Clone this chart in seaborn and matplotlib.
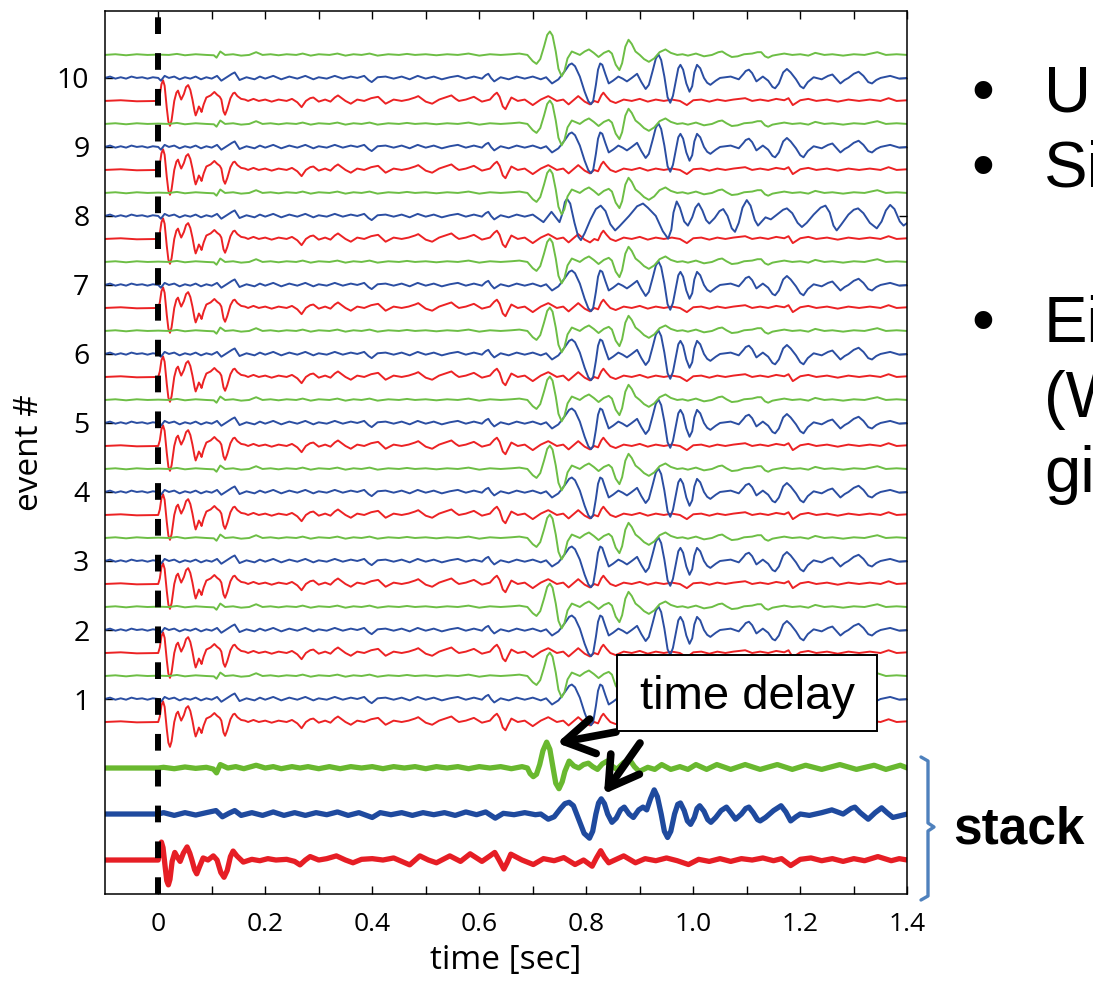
import matplotlib
matplotlib.use("Agg")
import matplotlib.pyplot as plt
from matplotlib.patches import Rectangle
from matplotlib.lines import Line2D
import seaborn as sns
import pandas as pd

# ---------------- data (time [s], amplitude) ----------------
EVENTS = [1, 2, 3, 4, 5, 6, 7, 8, 9, 10]
STATIONS = ["red", "blue", "green"]

RED_TRACE = [(-0.1, 0.0), (-0.07, 0.01), (-0.04, -0.005), (0.0, 0.0), (0.003, 0.08), (0.006, 0.24),
             (0.009, 0.30), (0.012, 0.22), (0.016, -0.10), (0.019, -0.30), (0.022, -0.36), (0.025, -0.28),
             (0.030, 0.0), (0.034, 0.12), (0.037, 0.15), (0.040, 0.08), (0.043, 0.02), (0.048, 0.10),
             (0.052, 0.20), (0.056, 0.23), (0.060, 0.16), (0.064, 0.02), (0.068, -0.15), (0.070, -0.21),
             (0.073, -0.15), (0.076, -0.08), (0.079, -0.12), (0.081, -0.16), (0.085, -0.05), (0.090, 0.05),
             (0.098, 0.08), (0.105, 0.13), (0.110, 0.09), (0.115, 0.06), (0.118, 0.02), (0.122, -0.15),
             (0.125, -0.20), (0.129, -0.12), (0.135, 0.04), (0.140, 0.11), (0.143, 0.12), (0.148, 0.07),
             (0.155, 0.03), (0.162, 0.02), (0.168, 0.0), (0.178, 0.03), (0.188, 0.0), (0.200, 0.02),
             (0.212, -0.01), (0.225, 0.02), (0.240, 0.0), (0.250, 0.03), (0.260, -0.02), (0.268, -0.09),
             (0.276, 0.0), (0.284, 0.04), (0.290, 0.05), (0.300, -0.01), (0.312, 0.02), (0.322, -0.01),
             (0.330, 0.05), (0.336, 0.08), (0.343, 0.04), (0.350, 0.0), (0.360, -0.04), (0.372, 0.02),
             (0.385, 0.0), (0.398, 0.04), (0.411, 0.06), (0.425, -0.04), (0.440, 0.02), (0.455, 0.0),
             (0.468, 0.02), (0.480, 0.05), (0.486, 0.07), (0.493, 0.03), (0.500, -0.01), (0.512, -0.04),
             (0.525, 0.02), (0.540, 0.06), (0.548, 0.08), (0.556, 0.03), (0.562, 0.0), (0.575, 0.02),
             (0.590, 0.06), (0.605, -0.01), (0.620, 0.02), (0.628, 0.09), (0.633, 0.12), (0.638, 0.06),
             (0.644, -0.08), (0.649, -0.12), (0.654, -0.04), (0.660, 0.05), (0.672, 0.0), (0.685, 0.02),
             (0.700, -0.06), (0.715, 0.02), (0.729, 0.07), (0.745, 0.0), (0.757, 0.02), (0.767, -0.05),
             (0.785, 0.07), (0.797, -0.01), (0.807, -0.05), (0.815, 0.0), (0.822, -0.02), (0.828, 0.08),
             (0.832, 0.12), (0.838, 0.06), (0.845, 0.0), (0.855, -0.03), (0.870, 0.02), (0.885, 0.0),
             (0.900, 0.03), (0.915, -0.01), (0.930, 0.02), (0.945, 0.0), (0.960, 0.02), (0.975, 0.0),
             (0.988, -0.06), (1.000, 0.01), (1.015, 0.02), (1.030, -0.01), (1.045, 0.02), (1.060, 0.0),
             (1.075, 0.02), (1.097, 0.04), (1.110, 0.0), (1.125, 0.02), (1.140, 0.0), (1.155, 0.03),
             (1.170, 0.01), (1.178, 0.04), (1.186, -0.06), (1.200, 0.01), (1.215, 0.03), (1.230, 0.0),
             (1.250, 0.02), (1.270, -0.01), (1.290, 0.02), (1.310, 0.0), (1.330, 0.02), (1.350, 0.0),
             (1.365, 0.04), (1.380, 0.0), (1.400, 0.01)]

GREEN_TRACE = [(-0.1, 0.0), (-0.08, 0.01), (-0.06, -0.005), (-0.04, 0.01), (-0.02, 0.0), (0.0, 0.005),
               (0.02, 0.0), (0.035, 0.015), (0.05, -0.005), (0.07, 0.01), (0.09, 0.0), (0.104, -0.005),
               (0.109, -0.04), (0.116, 0.05), (0.125, 0.0), (0.14, 0.01), (0.155, -0.01), (0.17, 0.0),
               (0.183, 0.04), (0.195, 0.0), (0.21, 0.01), (0.225, -0.005), (0.24, 0.01), (0.258, 0.0),
               (0.27, 0.02), (0.285, -0.01), (0.30, 0.01), (0.32, 0.0), (0.335, 0.02), (0.35, -0.01),
               (0.365, 0.01), (0.38, 0.0), (0.395, 0.02), (0.41, -0.01), (0.43, 0.01), (0.45, 0.0),
               (0.465, 0.015), (0.48, 0.0), (0.50, 0.01), (0.52, -0.005), (0.54, 0.01), (0.56, 0.0),
               (0.58, 0.02), (0.60, -0.01), (0.62, 0.01), (0.64, 0.0), (0.66, 0.01), (0.675, 0.02),
               (0.690, 0.0), (0.700, -0.09), (0.707, -0.13), (0.714, -0.06), (0.721, 0.12), (0.727, 0.29),
               (0.732, 0.34), (0.737, 0.28), (0.743, 0.05), (0.748, -0.20), (0.754, -0.31), (0.759, -0.24),
               (0.765, -0.05), (0.773, 0.05), (0.788, 0.0), (0.797, 0.05), (0.805, 0.08), (0.814, 0.03),
               (0.823, -0.03), (0.833, 0.03), (0.842, 0.06), (0.848, 0.02), (0.855, -0.14), (0.862, -0.22),
               (0.867, -0.12), (0.873, 0.12), (0.879, 0.22), (0.885, 0.16), (0.892, 0.05), (0.900, 0.0),
               (0.908, -0.06), (0.917, -0.10), (0.927, -0.05), (0.937, 0.04), (0.948, 0.08), (0.958, 0.03),
               (0.970, 0.0), (0.980, 0.01), (0.99, -0.01), (1.005, 0.02), (1.02, -0.02), (1.035, 0.0),
               (1.047, 0.04), (1.054, 0.05), (1.062, 0.01), (1.072, -0.03), (1.083, -0.02), (1.095, 0.01),
               (1.110, 0.02), (1.120, 0.04), (1.127, 0.04), (1.134, -0.02), (1.140, -0.04), (1.148, -0.01),
               (1.155, 0.0), (1.17, 0.02), (1.185, 0.0), (1.20, 0.01), (1.215, -0.01), (1.228, 0.03),
               (1.245, 0.0), (1.26, 0.01), (1.28, -0.01), (1.30, 0.01), (1.32, 0.0), (1.344, 0.04),
               (1.36, 0.0), (1.38, 0.01), (1.40, 0.0)]

BLUE_TRACE = [(-0.1, 0.0), (-0.09, 0.02), (-0.08, -0.01), (-0.07, 0.01), (-0.06, -0.01), (-0.05, 0.02),
              (-0.04, 0.0), (-0.03, 0.01), (-0.02, -0.01), (-0.01, 0.01), (0.0, 0.0), (0.005, -0.04),
              (0.012, 0.03), (0.02, 0.0), (0.03, 0.02), (0.04, -0.02), (0.05, 0.01), (0.06, -0.01),
              (0.07, 0.02), (0.08, -0.02), (0.09, 0.01), (0.10, -0.01), (0.11, 0.03), (0.118, -0.04),
              (0.13, 0.02), (0.138, 0.06), (0.143, 0.08), (0.148, 0.02), (0.152, -0.03), (0.165, 0.01),
              (0.18, -0.02), (0.19, 0.02), (0.20, -0.01), (0.215, 0.03), (0.23, -0.02), (0.245, 0.02),
              (0.26, -0.01), (0.275, 0.03), (0.29, -0.02), (0.30, 0.01), (0.315, -0.01), (0.33, 0.03),
              (0.345, -0.01), (0.36, 0.02), (0.372, 0.0), (0.385, 0.03), (0.393, -0.03), (0.399, -0.06),
              (0.41, 0.01), (0.425, 0.02), (0.44, -0.01), (0.455, 0.02), (0.47, -0.02), (0.485, 0.03),
              (0.50, -0.01), (0.515, 0.02), (0.53, -0.02), (0.545, 0.01), (0.56, 0.03), (0.575, -0.01),
              (0.59, 0.02), (0.605, -0.01), (0.612, 0.04), (0.617, 0.06), (0.622, 0.0), (0.628, -0.05),
              (0.64, 0.01), (0.655, -0.02), (0.67, 0.02), (0.685, -0.01), (0.70, 0.02), (0.715, -0.02),
              (0.725, 0.01), (0.736, -0.08), (0.748, -0.02), (0.760, 0.10), (0.768, 0.19), (0.773, 0.21),
              (0.779, 0.17), (0.788, 0.02), (0.797, -0.20), (0.804, -0.34), (0.809, -0.38), (0.813, -0.33),
              (0.818, -0.10), (0.822, 0.12), (0.826, 0.21), (0.830, 0.19), (0.836, 0.05), (0.842, -0.08),
              (0.850, -0.04), (0.860, 0.02), (0.868, -0.01), (0.876, -0.05), (0.885, 0.0), (0.895, 0.06),
              (0.903, -0.06), (0.911, -0.16), (0.917, -0.10), (0.924, 0.10), (0.930, 0.28), (0.935, 0.34),
              (0.940, 0.26), (0.946, 0.02), (0.952, -0.28), (0.957, -0.36), (0.962, -0.26), (0.968, -0.02),
              (0.972, 0.14), (0.976, 0.19), (0.981, 0.12), (0.987, -0.08), (0.993, -0.20), (0.998, -0.12),
              (1.002, 0.08), (1.007, 0.19), (1.013, 0.14), (1.020, 0.0), (1.026, -0.07), (1.032, -0.10),
              (1.042, -0.04), (1.050, 0.0), (1.070, 0.02), (1.085, -0.02), (1.094, 0.06), (1.098, 0.10),
              (1.104, 0.12), (1.110, 0.07), (1.118, -0.05), (1.130, 0.02), (1.140, -0.04), (1.148, -0.13),
              (1.153, -0.15), (1.160, -0.08), (1.168, 0.08), (1.175, 0.13), (1.182, 0.08), (1.192, -0.02),
              (1.200, -0.12), (1.206, -0.15), (1.214, -0.06), (1.225, 0.01), (1.240, -0.02), (1.252, 0.03),
              (1.260, 0.05), (1.268, -0.02), (1.275, -0.08), (1.283, -0.03), (1.290, 0.0), (1.300, 0.06),
              (1.309, 0.09), (1.318, 0.03), (1.327, -0.06), (1.334, -0.08), (1.342, -0.03), (1.350, 0.0),
              (1.368, 0.03), (1.385, -0.01), (1.40, 0.0)]

# event 8 at the blue station has a much longer coda
BLUE_EV8_CODA = [(0.72, -0.09), (0.735, 0.06), (0.750, -0.09), (0.756, 0.05), (0.760, 0.20), (0.764, 0.25),
                 (0.770, 0.18), (0.778, -0.10), (0.785, -0.30), (0.790, -0.35), (0.797, -0.25), (0.808, -0.05),
                 (0.818, 0.10), (0.827, 0.15), (0.836, 0.07), (0.845, -0.12), (0.854, -0.21), (0.862, -0.15),
                 (0.880, 0.0), (0.895, 0.14), (0.906, 0.18), (0.915, 0.12), (0.930, 0.0), (0.943, -0.22),
                 (0.953, -0.33), (0.959, -0.20), (0.963, 0.05), (0.969, 0.21), (0.975, 0.12), (0.983, -0.08),
                 (0.990, -0.14), (0.998, -0.02), (1.004, 0.12), (1.010, 0.18), (1.017, 0.08), (1.024, -0.06),
                 (1.030, -0.11), (1.040, -0.03), (1.049, 0.07), (1.056, 0.10), (1.064, 0.0), (1.072, -0.18),
                 (1.078, -0.23), (1.085, -0.10), (1.092, 0.12), (1.100, 0.23), (1.107, 0.15), (1.115, -0.06),
                 (1.121, -0.14), (1.128, -0.08), (1.135, -0.02), (1.145, -0.05), (1.160, 0.04), (1.168, 0.09),
                 (1.175, 0.11), (1.185, 0.04), (1.195, -0.10), (1.203, -0.16), (1.212, -0.10), (1.225, 0.02),
                 (1.238, 0.12), (1.247, 0.15), (1.255, 0.05), (1.262, -0.14), (1.268, -0.21), (1.276, -0.13),
                 (1.290, 0.02), (1.300, 0.09), (1.308, 0.11), (1.318, 0.04), (1.330, -0.10), (1.343, -0.18),
                 (1.352, -0.08), (1.360, 0.08), (1.368, 0.16), (1.376, 0.10), (1.386, -0.08), (1.393, -0.14),
                 (1.40, -0.10)]

GREEN_STACK = [(-0.1, 0.0), (0.0, 0.0), (0.01, 0.01), (0.03, -0.01), (0.05, 0.015), (0.07, -0.005),
               (0.09, 0.01), (0.103, -0.015), (0.109, -0.07), (0.116, 0.05), (0.13, 0.0), (0.145, 0.02),
               (0.16, -0.01), (0.183, 0.04), (0.20, 0.0), (0.215, 0.02), (0.23, -0.01), (0.25, 0.02),
               (0.265, 0.0), (0.28, 0.02), (0.30, -0.01), (0.32, 0.02), (0.34, -0.01), (0.36, 0.02),
               (0.38, 0.0), (0.40, 0.02), (0.42, -0.01), (0.44, 0.02), (0.46, 0.0), (0.48, 0.02),
               (0.50, -0.01), (0.52, 0.02), (0.54, 0.0), (0.56, 0.02), (0.58, -0.01), (0.60, 0.02),
               (0.62, 0.0), (0.64, 0.02), (0.66, -0.01), (0.68, 0.02), (0.690, 0.0), (0.695, -0.08),
               (0.701, -0.125), (0.707, -0.09), (0.713, 0.05), (0.719, 0.25), (0.726, 0.375), (0.732, 0.27),
               (0.738, 0.0), (0.743, -0.22), (0.749, -0.30), (0.755, -0.20), (0.760, -0.05), (0.768, 0.10),
               (0.777, 0.03), (0.786, 0.0), (0.795, 0.05), (0.804, 0.07), (0.812, 0.02), (0.821, -0.02),
               (0.830, 0.06), (0.839, 0.10), (0.848, 0.03), (0.857, -0.02), (0.870, 0.08), (0.881, 0.12),
               (0.890, 0.02), (0.899, -0.05), (0.915, 0.01), (0.928, -0.02), (0.941, 0.05), (0.958, -0.02),
               (0.975, 0.02), (0.99, -0.02), (1.005, 0.05), (1.025, -0.02), (1.044, 0.05), (1.07, -0.02),
               (1.097, 0.05), (1.125, -0.02), (1.157, 0.05), (1.185, -0.02), (1.21, 0.04), (1.24, -0.02),
               (1.274, 0.05), (1.305, -0.02), (1.338, 0.04), (1.36, -0.02), (1.387, 0.04), (1.40, 0.0)]

BLUE_STACK = [(-0.1, 0.0), (0.0, 0.0), (0.01, 0.02), (0.03, -0.02), (0.05, 0.02), (0.07, -0.015),
              (0.09, 0.02), (0.108, 0.05), (0.12, -0.04), (0.132, 0.01), (0.143, 0.05), (0.155, -0.02),
              (0.175, 0.02), (0.195, -0.02), (0.215, 0.03), (0.235, -0.02), (0.255, 0.02), (0.275, -0.02),
              (0.295, 0.02), (0.315, -0.01), (0.335, 0.03), (0.355, -0.02), (0.375, 0.02), (0.40, -0.05),
              (0.415, 0.02), (0.435, -0.01), (0.455, 0.02), (0.475, -0.02), (0.495, 0.02), (0.515, -0.01),
              (0.535, 0.02), (0.555, -0.02), (0.575, 0.03), (0.595, -0.01), (0.612, 0.03), (0.630, -0.06),
              (0.645, 0.01), (0.665, -0.01), (0.685, 0.02), (0.705, -0.01), (0.715, 0.0), (0.729, -0.075),
              (0.740, -0.04), (0.752, 0.08), (0.760, 0.15), (0.768, 0.17), (0.776, 0.12), (0.786, -0.08),
              (0.796, -0.28), (0.806, -0.35), (0.812, -0.25), (0.818, 0.0), (0.823, 0.16), (0.828, 0.22),
              (0.834, 0.15), (0.840, 0.0), (0.848, -0.12), (0.856, -0.06), (0.864, 0.06), (0.871, 0.10),
              (0.880, 0.0), (0.888, -0.05), (0.898, 0.06), (0.906, 0.10), (0.913, 0.06), (0.920, 0.22),
              (0.927, 0.35), (0.933, 0.25), (0.940, 0.0), (0.946, -0.25), (0.952, -0.34), (0.958, -0.25),
              (0.965, 0.0), (0.971, 0.14), (0.976, 0.16), (0.983, 0.05), (0.989, -0.10), (0.995, -0.15),
              (1.002, -0.05), (1.007, 0.08), (1.012, 0.12), (1.020, 0.04), (1.027, -0.08), (1.033, -0.12),
              (1.042, -0.05), (1.052, 0.05), (1.062, 0.10), (1.070, 0.02), (1.079, -0.075), (1.090, 0.0),
              (1.098, 0.08), (1.104, 0.10), (1.112, 0.02), (1.120, -0.08), (1.125, -0.10), (1.135, -0.05),
              (1.150, 0.05), (1.164, 0.12), (1.173, 0.03), (1.182, -0.10), (1.192, -0.04), (1.20, 0.0),
              (1.217, -0.02), (1.240, 0.02), (1.259, 0.06), (1.28, 0.0), (1.295, 0.08), (1.302, 0.10),
              (1.312, 0.02), (1.327, -0.075), (1.340, 0.02), (1.352, 0.09), (1.362, 0.02), (1.373, -0.05),
              (1.40, 0.0)]

RED_STACK = [(-0.1, 0.0), (0.0, 0.0), (0.002, 0.08), (0.004, 0.20), (0.006, 0.26), (0.009, 0.18),
             (0.013, -0.10), (0.016, -0.30), (0.019, -0.36), (0.022, -0.28), (0.026, -0.02), (0.031, 0.11),
             (0.036, 0.04), (0.041, -0.02), (0.047, 0.10), (0.054, 0.19), (0.059, 0.10), (0.063, 0.0),
             (0.068, -0.14), (0.072, -0.20), (0.077, -0.10), (0.084, 0.03), (0.093, 0.0), (0.103, 0.06),
             (0.110, 0.0), (0.117, -0.18), (0.123, -0.25), (0.129, -0.15), (0.135, 0.05), (0.140, 0.13),
             (0.147, 0.06), (0.159, -0.03), (0.175, 0.01), (0.19, -0.01), (0.205, 0.02), (0.22, 0.0),
             (0.24, 0.01), (0.255, -0.02), (0.265, -0.07), (0.275, 0.0), (0.284, 0.05), (0.30, 0.0),
             (0.315, 0.02), (0.333, 0.06), (0.35, 0.0), (0.364, -0.04), (0.38, 0.01), (0.40, 0.02),
             (0.42, 0.0), (0.44, 0.03), (0.455, -0.02), (0.47, -0.07), (0.489, 0.06), (0.505, 0.0),
             (0.52, -0.04), (0.545, 0.06), (0.565, -0.02), (0.583, 0.09), (0.605, -0.02), (0.620, 0.06),
             (0.629, 0.11), (0.637, 0.0), (0.646, -0.13), (0.652, -0.04), (0.659, 0.085), (0.68, 0.0),
             (0.701, -0.065), (0.72, 0.02), (0.74, -0.01), (0.758, 0.035), (0.779, -0.065), (0.795, 0.0),
             (0.811, -0.09), (0.819, 0.03), (0.827, 0.135), (0.834, 0.04), (0.842, -0.04), (0.870, 0.06),
             (0.892, -0.04), (0.91, 0.02), (0.93, -0.01), (0.95, 0.03), (0.97, -0.01), (0.991, -0.065),
             (1.01, 0.01), (1.03, -0.02), (1.05, 0.02), (1.07, -0.02), (1.09, 0.02), (1.11, 0.0),
             (1.13, 0.03), (1.15, -0.01), (1.165, 0.02), (1.182, -0.08), (1.20, 0.01), (1.22, 0.03),
             (1.24, -0.01), (1.26, 0.02), (1.28, -0.02), (1.30, 0.02), (1.32, -0.01), (1.345, 0.05),
             (1.37, -0.01), (1.385, 0.02), (1.40, 0.0)]

X_TICKS = [0.0, 0.1, 0.2, 0.3, 0.4, 0.5, 0.6, 0.7, 0.8, 0.9, 1.0, 1.1, 1.2, 1.3, 1.4]
X_TICK_LABELS = ["0", "", "0.2", "", "0.4", "", "0.6", "", "0.8", "", "1.0", "", "1.2", "", "1.4"]
Y_TICK_LABELS = ["1", "2", "3", "4", "5", "6", "7", "8", "9", "10"]

# ---------------- layout / style ----------------
W, H = 1093, 981
EVENT_OFFSET = {"red": -1 / 3, "blue": 0.0, "green": 1 / 3}
STACK_BASE = {"green": 0.0, "blue": -2 / 3, "red": -4 / 3}
COLORS = {"red": "#EC2224", "blue": "#2B4EA2", "green": "#6DBE45"}
STACK_COLORS = {"red": "#E61E25", "blue": "#1F4A9E", "green": "#69B82F"}

sns.set_style("ticks")
plt.rcParams["font.family"] = ["Open Sans", "DejaVu Sans"]
for k in ["text.color", "axes.labelcolor", "xtick.color", "ytick.color", "axes.edgecolor"]:
    plt.rcParams[k] = "black"

template = {"red": RED_TRACE, "blue": BLUE_TRACE, "green": GREEN_TRACE}
rows = []
for ev in EVENTS:
    for st in STATIONS:
        shape = template[st]
        if st == "blue" and ev == 8:
            shape = [p for p in BLUE_TRACE if p[0] < 0.715] + BLUE_EV8_CODA
        for t, a in shape:
            rows.append({"t": t, "y": ev + EVENT_OFFSET[st] + a, "station": st, "trace": f"{st}{ev}"})
df_events = pd.DataFrame(rows)

rows = []
for st, shape in [("green", GREEN_STACK), ("blue", BLUE_STACK), ("red", RED_STACK)]:
    for t, a in shape:
        rows.append({"t": t, "y": STACK_BASE[st] + a, "station": st})
df_stack = pd.DataFrame(rows)

fig = plt.figure(figsize=(W / 100, H / 100), dpi=100)
ax = fig.add_axes([104.7 / W, 1 - 894.3 / H, (907.3 - 104.7) / W, (894.3 - 11) / H])

sns.lineplot(data=df_events, x="t", y="y", hue="station", units="trace", estimator=None,
             palette=COLORS, sort=False, legend=False, lw=1.4, ax=ax)
sns.lineplot(data=df_stack, x="t", y="y", hue="station", estimator=None,
             palette=STACK_COLORS, sort=False, legend=False, lw=3.8, ax=ax)
for ln in ax.get_lines():
    ln.set_solid_joinstyle("round")
    ln.set_solid_capstyle("round")

ax.axvline(0, color="black", lw=4.3, ls=(0, (2.8, 3.2)), zorder=6)

ax.set_xlim(-0.1, 1.4)
ax.set_ylim(-1.83, 10.97)
ax.set_xticks(X_TICKS)
ax.set_xticklabels(X_TICK_LABELS)
ax.set_yticks(EVENTS)
ax.set_yticklabels(Y_TICK_LABELS)
ax.tick_params(axis="both", direction="in", length=5.8, width=1.0, top=True, right=True, color="black")
ax.tick_params(axis="x", labelsize=19, pad=13)
ax.tick_params(axis="y", labelsize=20.5, pad=11)
for s in ax.spines.values():
    s.set_linewidth(1.1)
    s.set_color("black")
ax.set_xlabel("time [sec]", fontsize=24, labelpad=5)
ax.set_ylabel("event #", fontsize=24, labelpad=8)

# time delay box + arrows
fig.add_artist(Rectangle((617 / W, 1 - 731 / H), (877 - 617) / W, (731 - 655) / H,
                         transform=fig.transFigure, facecolor="white", edgecolor="black", lw=1.4, zorder=10))
fig.text(747 / W, 1 - 709 / H, "time delay", fontsize=34, family=["Liberation Sans"],
         ha="center", va="baseline", zorder=11, color="black")
for (x0, y0), (x1, y1) in [((616, 732), (557, 743)), ((640, 743), (604, 794))]:
    ax.annotate("", xy=(x1, H - y1), xycoords="figure pixels", xytext=(x0, H - y0),
                textcoords="figure pixels", annotation_clip=False, zorder=12,
                arrowprops=dict(arrowstyle="->,head_length=0.75,head_width=0.45", lw=5.5,
                                color="black", mutation_scale=28, shrinkA=0, shrinkB=0))

# stack bracket and label
bx = [921, 928, 928, 934, 928, 928, 921]
by = [757, 761, 823, 827, 831, 896, 900]
fig.add_artist(Line2D([x / W for x in bx], [1 - y / H for y in by], transform=fig.transFigure,
                      color="#4F81BD", lw=2.4, solid_joinstyle="round"))
fig.text(953 / W, 1 - 843 / H, "stack", fontsize=37, fontweight="bold", family=["Liberation Sans"],
         va="baseline", ha="left", color="black")

# slide bullets (cut off at the right edge, as in the original slide)
for bullet, txt, base in [(True, "U", 111.7), (True, "Si", 186.7), (True, "Ei", 341.7),
                          (False, "(W", 416.7), (False, "gi", 491.7)]:
    if bullet:
        fig.text(971 / W, 1 - base / H, "\u2022", fontsize=47, family=["Liberation Sans"],
                 va="baseline", color="black")
    fig.text(1044 / W, 1 - base / H, txt, fontsize=47, family=["Liberation Sans"],
             va="baseline", color="black")

fig.savefig("out.png", dpi=100)
